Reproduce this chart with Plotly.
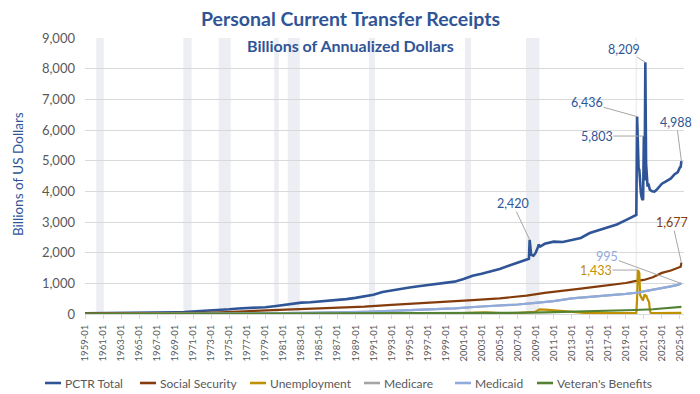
import plotly.graph_objects as go

# ---------------- data ----------------
pctr_dates = ["1959-01","1960-01","1961-01","1962-01","1963-01","1964-01","1965-01","1966-01","1967-01","1968-01",
              "1969-01","1970-01","1971-01","1972-01","1973-01","1974-01","1975-01","1976-01","1977-01","1978-01",
              "1979-01","1980-01","1981-01","1982-01","1983-01","1984-01","1985-01","1986-01","1987-01","1988-01",
              "1989-01","1990-01","1991-01","1992-01","1993-01","1994-01","1995-01","1996-01","1997-01","1998-01",
              "1999-01","2000-01","2001-01","2002-01","2003-01","2004-01","2005-01","2006-01","2007-01","2008-01",
              "2008-04","2008-05","2008-06","2008-07","2008-10","2009-01","2009-04","2009-05","2009-07","2010-01",
              "2011-01","2012-01","2013-01","2014-01","2015-01","2016-01","2017-01","2018-01","2019-01","2020-01",
              "2020-03","2020-04","2020-05","2020-06","2020-07","2020-08","2020-09","2020-10","2020-11","2020-12",
              "2021-01","2021-02","2021-03","2021-04","2021-05","2021-06","2021-07","2021-08","2021-09","2021-12",
              "2022-03","2022-06","2022-09","2023-01","2023-06","2024-01","2024-06","2024-10","2025-01","2025-02",
              "2025-03"]
pctr_vals = [25, 26, 30, 31, 33, 34, 36, 39, 45, 52,
             58, 66, 82, 92, 108, 122, 155, 180, 190, 202,
             222, 255, 300, 335, 372, 385, 408, 437, 458, 484,
             525, 575, 630, 720, 775, 812, 862, 905, 940, 965,
             1005, 1055, 1140, 1250, 1315, 1385, 1470, 1570, 1680, 1770,
             1800, 2420, 2180, 1930, 1900, 2000, 2180, 2260, 2200, 2290,
             2360, 2350, 2410, 2480, 2640, 2740, 2830, 2920, 3060, 3190,
             3230, 6436, 5050, 4750, 4700, 4120, 3950, 3820, 3720, 3750,
             5803, 4350, 8209, 4900, 4300, 4150, 4250, 4150, 4050, 4000,
             3990, 4050, 4150, 4250, 4320, 4420, 4560, 4620, 4780, 4800,
             4988]

ss_dates = ["1959-01","1962-01","1965-01","1968-01","1970-01","1972-01","1974-01","1975-01","1978-01","1980-01",
            "1982-01","1985-01","1988-01","1990-01","1993-01","1995-01","1998-01","2000-01","2002-01","2005-01",
            "2008-01","2010-01","2012-01","2014-01","2016-01","2018-01","2019-01","2020-01","2021-01","2022-01",
            "2023-01","2024-01","2025-01","2025-02","2025-03"]
ss_vals = [10, 14, 17, 23, 30, 38, 55, 65, 88, 110,
           150, 185, 215, 240, 300, 330, 370, 400, 450, 510,
           600, 690, 750, 830, 900, 970, 1010, 1070, 1110, 1200,
           1340, 1420, 1520, 1540, 1677]

ui_dates = ["1959-01","1961-01","1962-01","1965-01","1970-01","1971-01","1975-01","1975-06","1977-01","1980-06",
            "1982-10","1984-01","1990-01","1991-06","1992-06","1994-01","2000-01","2002-01","2003-06","2005-01",
            "2007-01","2008-12","2009-06","2010-06","2011-06","2012-06","2013-12","2014-06","2016-01","2019-01",
            "2020-03","2020-04","2020-05","2020-06","2020-07","2020-08","2020-09","2020-10","2020-11","2020-12",
            "2021-01","2021-02","2021-03","2021-04","2021-05","2021-06","2021-07","2021-08","2021-09","2021-10",
            "2022-01","2023-01","2024-01","2025-03"]
ui_vals = [3, 5, 4, 3, 4, 6, 12, 20, 15, 18,
           28, 16, 18, 27, 39, 24, 20, 48, 55, 31,
           32, 70, 150, 135, 108, 82, 55, 36, 32, 28,
           32, 480, 1433, 1390, 1340, 620, 560, 500, 470, 460,
           610, 640, 560, 620, 540, 480, 420, 380, 120, 40,
           28, 30, 33, 34]

mcd_dates = ["1959-01","1966-01","1970-01","1975-01","1980-01","1985-01","1990-01","1993-01","1997-01","2000-01",
             "2003-01","2005-01","2007-01","2009-01","2011-01","2013-01","2015-01","2017-01","2019-01","2020-01",
             "2020-06","2021-01","2022-01","2023-03","2024-01","2024-10","2025-03"]
mcd_vals = [0, 0, 5, 12, 25, 38, 70, 100, 135, 185,
            245, 275, 310, 365, 420, 510, 570, 610, 655, 675,
            700, 740, 790, 840, 900, 950, 995]

mcr_dates = mcd_dates
mcr_vals = mcd_vals

vet_dates = ["1959-01","1965-01","1970-01","1975-01","1980-01","1985-01","1990-01","1995-01","2000-01","2005-01",
             "2010-01","2015-01","2019-01","2020-01","2022-01","2024-01","2025-03"]
vet_vals = [4.5, 5.5, 8, 15, 15, 16, 18, 20, 25, 35,
            55, 85, 120, 130, 155, 200, 230]

rec_start = ["1960-04","1969-12","1973-11","1980-01","1981-07","1990-07","2001-03","2007-12","2020-02"]
rec_end   = ["1961-02","1970-11","1975-03","1980-07","1982-11","1991-03","2001-11","2009-06","2020-04"]

series_names = ["PCTR Total", "Social Security", "Unemployment", "Medicare", "Medicaid", "Veteran's Benefits"]

# ---------------- styles ----------------
FONT = "Lato, 'Open Sans', sans-serif"
BLUE = "#2F5597"
BROWN = "#843C0C"
GOLD = "#BF9000"
GRAY = "#A5A5A5"
LBLUE = "#8FAADC"
GREEN = "#548235"
TXT = "#595959"
colors = [BLUE, BROWN, GOLD, GRAY, LBLUE, GREEN]
widths = [2.6, 2.2, 2.2, 2.2, 2.2, 2.2]
legend_x = [45, 140, 250, 364, 455, 537]   # legend entry starts, window pixels
LEG_Y = 383

OFF = 8  # page body margin
W, H = 692, 386
L, R, T, B = 77, 16, 30, 80
pw = W - L - R
ph = H - T - B
def px_x(p):
    return (p - OFF - L) / pw
def px_y(p):
    return (H - B - (p - OFF)) / ph

fig = go.Figure()
data = [(pctr_dates, pctr_vals), (ss_dates, ss_vals), (ui_dates, ui_vals),
        (mcr_dates, mcr_vals), (mcd_dates, mcd_vals), (vet_dates, vet_vals)]
for name, (xs, ys), col, w in zip(series_names, data, colors, widths):
    fig.add_trace(go.Scatter(x=xs, y=ys, name=name, mode="lines", showlegend=False,
                             line=dict(color=col, width=w), hoverinfo="skip"))

for s, e in zip(rec_start, rec_end):
    fig.add_shape(type="rect", xref="x", yref="paper", x0=s, x1=e, y0=0, y1=1,
                  fillcolor="#ECEEF3", line=dict(width=0), layer="below")

for name, col, lx in zip(series_names, colors, legend_x):
    fig.add_shape(type="line", xref="paper", yref="paper", x0=px_x(lx), x1=px_x(lx + 16),
                  y0=px_y(LEG_Y), y1=px_y(LEG_Y), line=dict(color=col, width=2.6))
    fig.add_annotation(xref="paper", yref="paper", x=px_x(lx + 18), y=px_y(LEG_Y),
                       text=name, showarrow=False, xanchor="left", yanchor="middle",
                       font=dict(family=FONT, size=12, color=TXT))

def ann(xs, ys, i, text, col, ax, ay):
    fig.add_annotation(x=xs[i], y=ys[i], text=text, showarrow=True, arrowhead=0,
                       arrowwidth=1, arrowcolor="#A6A6A6", ax=ax, ay=ay, standoff=0,
                       startstandoff=0, borderpad=0,
                       font=dict(family=FONT, size=12.5, color=col))

ann(pctr_dates, pctr_vals, pctr_dates.index("2021-03"), "8,209", BLUE, -21, -13)
ann(pctr_dates, pctr_vals, pctr_dates.index("2020-04"), "6,436", BLUE, -50, -14)
ann(pctr_dates, pctr_vals, pctr_dates.index("2021-01"), "5,803", BLUE, -47, 0)
ann(pctr_dates, pctr_vals, len(pctr_vals) - 1, "4,988", BLUE, -5, -39)
ann(pctr_dates, pctr_vals, pctr_dates.index("2008-05"), "2,420", BLUE, -17, -36)
ann(ss_dates, ss_vals, len(ss_vals) - 1, "1,677", BROWN, -9, -40)
ann(mcd_dates, mcd_vals, len(mcd_vals) - 1, "995", LBLUE, -74, -27)
ann(ui_dates, ui_vals, ui_dates.index("2020-05"), "1,433", GOLD, -42, 0)

fig.add_annotation(xref="paper", yref="paper", x=px_x(350), y=px_y(19),
                   text="<b>Personal Current Transfer Receipts</b>", showarrow=False, borderpad=0,
                   font=dict(family=FONT, size=19.5, color=BLUE), xanchor="center", yanchor="middle")
fig.add_annotation(xref="paper", yref="paper", x=px_x(350), y=px_y(45),
                   text="<b>Billions of Annualized Dollars</b>", showarrow=False, borderpad=0,
                   font=dict(family=FONT, size=16, color=BLUE), xanchor="center", yanchor="middle")
fig.add_annotation(xref="paper", yref="paper", x=px_x(18), y=px_y(174),
                   text="Billions of US Dollars", showarrow=False, textangle=-90,
                   font=dict(family=FONT, size=13.5, color=BLUE), xanchor="center", yanchor="middle")

fig.update_layout(
    width=W, height=H,
    margin=dict(l=L, r=R, t=T, b=B, pad=0, autoexpand=False),
    paper_bgcolor="white", plot_bgcolor="white",
    font=dict(family=FONT, color=TXT),
    showlegend=False,
)
fig.update_xaxes(type="date", range=["1959-01-01", "2025-06-15"], tickformat="%Y-%m",
                 dtick="M24", tick0="1959-01-01", tickangle=-90, showgrid=False,
                 ticks="outside", ticklen=4, tickcolor="#D9D9D9", showline=False,
                 ticklabelstandoff=2,
                 tickfont=dict(family=FONT, size=9.5, color=TXT), fixedrange=True)
fig.update_yaxes(range=[0, 9000], dtick=1000, tickformat=",", showgrid=True,
                 gridcolor="#D9D9D9", gridwidth=1, zeroline=True, zerolinecolor="#D9D9D9",
                 zerolinewidth=1, ticks="", ticklabelstandoff=9,
                 tickfont=dict(family=FONT, size=13, color=TXT), fixedrange=True)

fig.write_html("out.html")
